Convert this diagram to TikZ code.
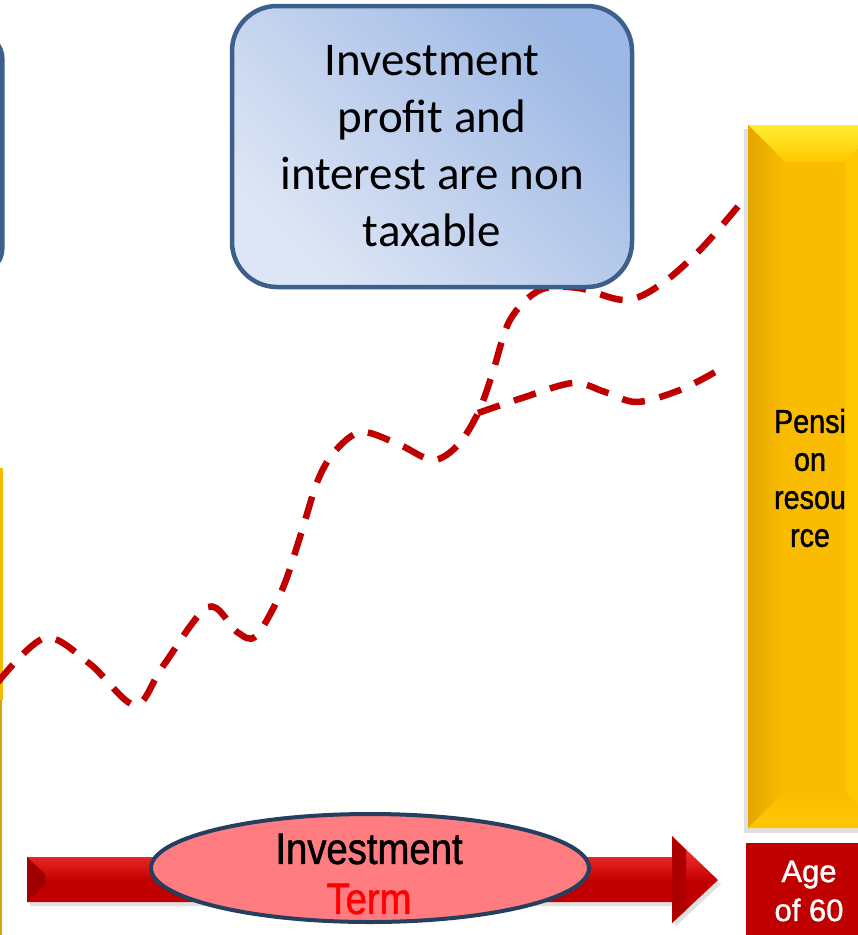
\documentclass[tikz,border=0pt]{standalone}
\usepackage{fontspec}
\setmainfont{Carlito}
\newfontfamily\gothic[FakeStretch=0.87, FakeBold=1.2]{Liberation Sans}
\newfontfamily\plainsans[FakeBold=1.2]{Liberation Sans}
\usetikzlibrary{shapes.geometric}

\definecolor{boxedge}{HTML}{3C5F8C}
\definecolor{boxlight}{HTML}{DEE6F5}
\definecolor{boxdark}{HTML}{9DB8E4}
\definecolor{barface}{HTML}{FABC00}
\definecolor{bartop}{HTML}{FFEE30}
\definecolor{barlow}{HTML}{FFC700}
\definecolor{barside}{HTML}{E3A600}
\definecolor{darkred}{HTML}{C00000}
\definecolor{brightred}{HTML}{FF4848}
\definecolor{endred}{HTML}{A00000}
\definecolor{ovalfill}{HTML}{FF7C80}
\definecolor{ovaledge}{HTML}{243F60}
\definecolor{termred}{HTML}{FF0000}
\definecolor{leftgold}{HTML}{F2BC00}
\definecolor{leftgolddark}{HTML}{D8A400}

\tikzset{
  notebox/.style={draw=boxedge, line width=4.5, rounded corners=45,
    top color=boxlight, bottom color=boxdark, shading angle=135,
    minimum width=400, minimum height=281, align=center, inner sep=0,
    font=\fontsize{47}{57}\selectfont},
  dashline/.style={draw=darkred, line width=6.5, dash pattern=on 23 off 15,
    line cap=butt, line join=round},
  gothiclabel/.style={align=center, inner sep=0, font=\gothic},
}

\begin{document}
\begin{tikzpicture}[x=1pt,y=-1pt]
\useasboundingbox (0,0) rectangle (858,935);
\clip (0,0) rectangle (858,935);

% edges of the neighbouring panels on the left
\draw[boxedge, line width=5, rounded corners=22] (-200,36) rectangle (2,271);
\fill[leftgold] (-10,468) rectangle (3,700);
\fill[leftgolddark] (-10,700) rectangle (1.5,935);

% pension resource bar (bevelled)
\fill[black, opacity=0.12] (744,129) rectangle (886,833);
\fill[barface] (748,125) rectangle (882,828);
\shade[top color=bartop, bottom color=barlow] (748,125) -- (882,125) -- (845,162) -- (785,162) -- cycle;
\shade[left color=barside, right color=barface] (748,125) -- (785,162) -- (785,791) -- (748,828) -- cycle;
\shade[top color=barface, bottom color=barlow] (748,828) -- (785,791) -- (845,791) -- (882,828) -- cycle;
\fill[barlow] (845,162) -- (882,125) -- (882,828) -- (845,791) -- cycle;
\node[gothiclabel, font=\gothic\fontsize{33}{38}\selectfont] (pension) at (810,478)
  {Pensi\\on\\resou\\rce};

% age box
\node[fill=darkred, minimum width=126, minimum height=94, inner sep=0] (agebox) at (809,890) {};
\node[align=center, inner sep=0, text=white, font=\plainsans\fontsize{31}{39}\selectfont]
  (age) at (809,891) {Age\\of 60};

% investment term arrow
\fill[black, opacity=0.12] (30,861) -- (675,861) -- (675,840) -- (721,884) -- (675,927) -- (675,906) -- (30,906) -- cycle;
\shade[top color=brightred, bottom color=darkred!90!red]
  (27,857) -- (672,857) -- (672,836) -- (718,880) -- (27,880) -- cycle;
\fill[darkred] (27,880) -- (718,880) -- (672,923) -- (672,902) -- (27,902) -- cycle;
\fill[endred] (27,857) -- (45,874) -- (45,885) -- (27,902) -- cycle;
\fill[endred!85!red] (672,836) -- (686,850) -- (686,910) -- (672,923) -- cycle;

% growth curves
\coordinate (split) at (478,413);
\draw[dashline] plot[smooth, tension=0.55] coordinates {
  (-2,682) (45,638) (90,664) (135,705) (163,666) (208,607) (237,632) (256,636)
  (282,590) (300,537) (318,480) (336,450) (362,432) (400,445) (433,460)
  (458,445) (478,413) (492,375) (510,320) (540,290) (578,288) (625,300)
  (660,285) (700,250) (740,204)};
\draw[dashline] plot[smooth, tension=0.55] coordinates {
  (split) (522,398) (573,383) (605,392) (637,402) (680,390) (717,371)};

% investment term oval
\node[ellipse, draw=ovaledge, line width=4, fill=ovalfill, minimum width=438,
  minimum height=108, inner sep=0] (term) at (370,868) {};
\node[gothiclabel, font=\gothic\fontsize{44}{50}\selectfont] (termtext) at (369,874)
  {Investment\\\textcolor{termred}{Term}};

% tax note
\node[notebox] (note) at (432,146.5)
  {Investment\\profit and\\interest are non\\taxable};
\end{tikzpicture}
\end{document}
